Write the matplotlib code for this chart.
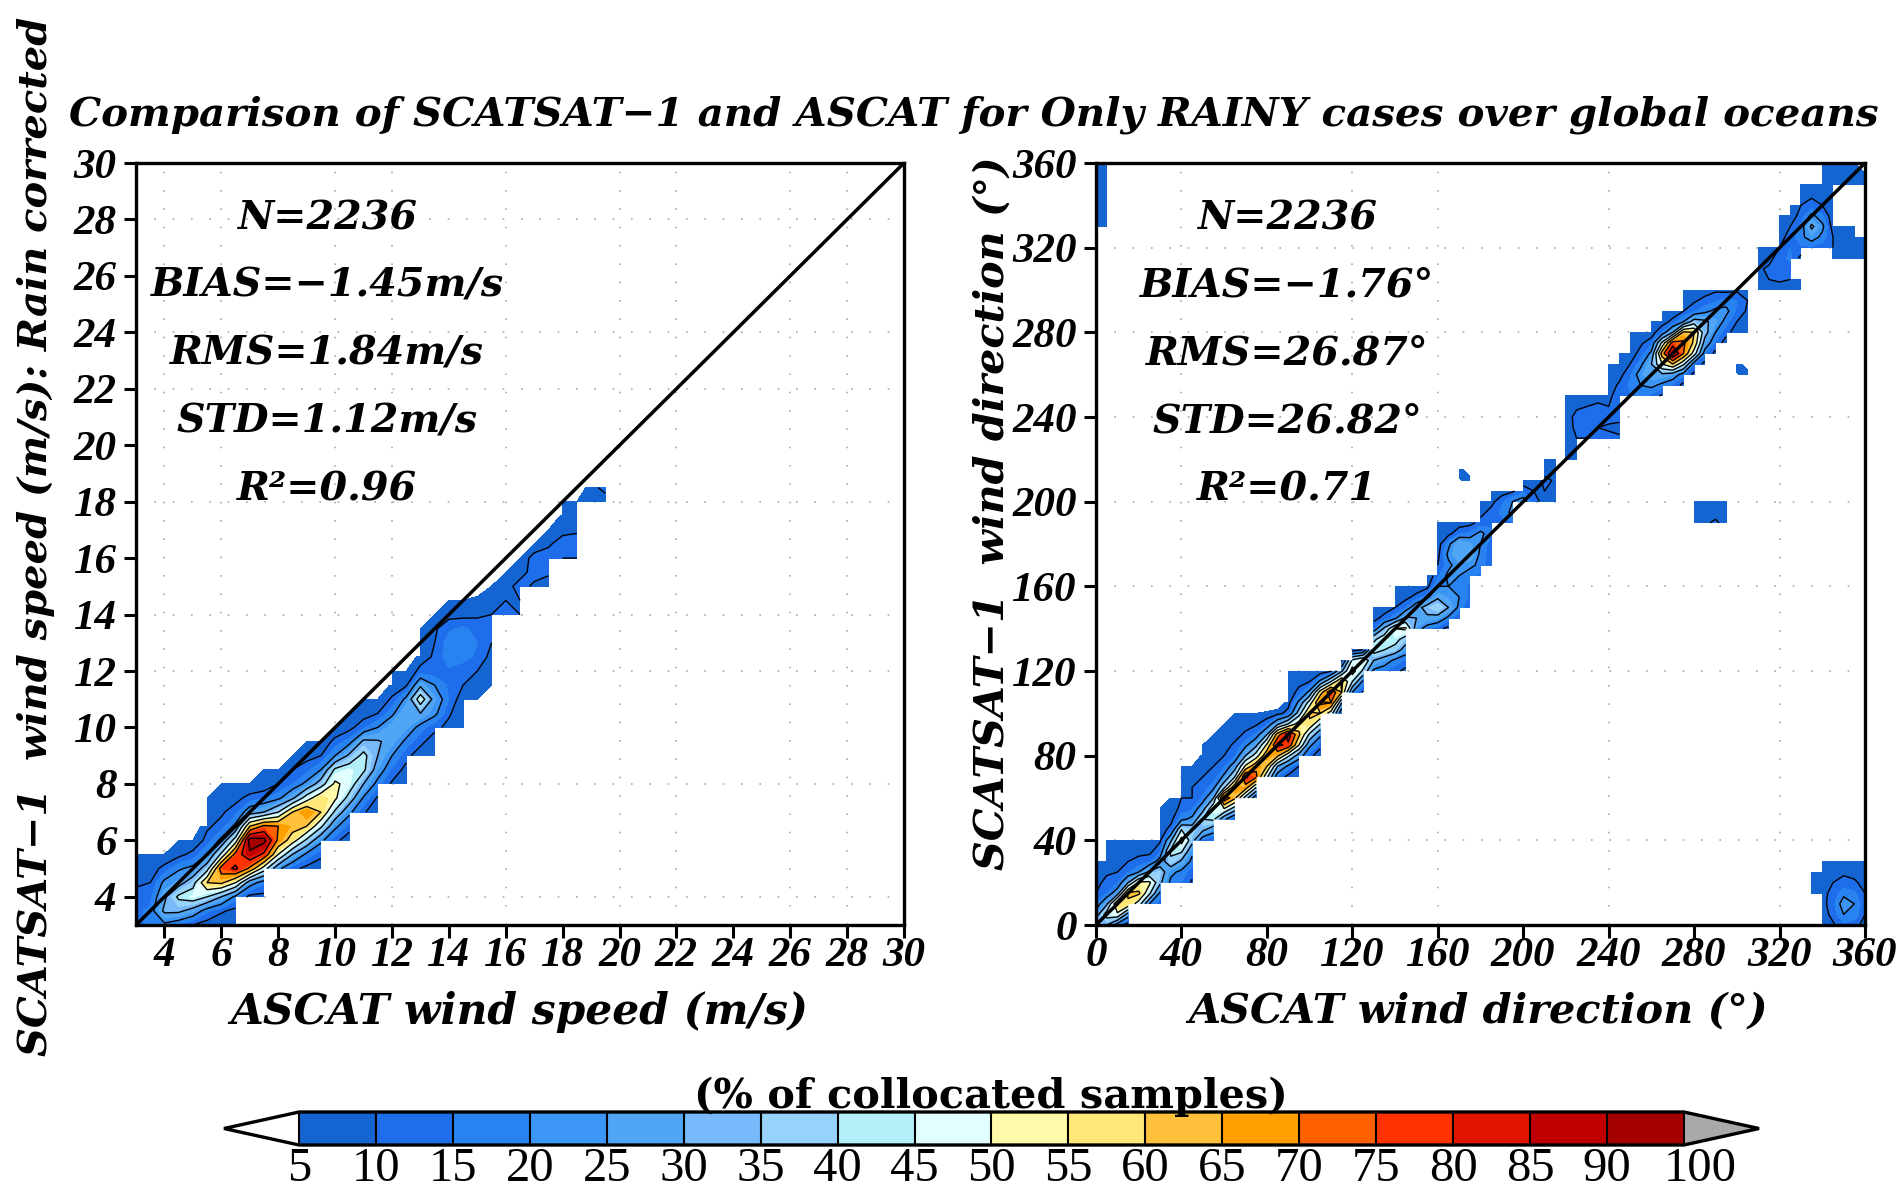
import numpy as np
import matplotlib
matplotlib.use('Agg')
import matplotlib.pyplot as plt
from matplotlib.colors import ListedColormap, BoundaryNorm
from matplotlib.colorbar import ColorbarBase

levels = [5,10,15,20,25,30,35,40,45,50,55,60,65,70,75,80,85,90,100]
line_levels = [10,20,30,40,50,60,70,80,90]
colors = ['#1464d2','#1e6eeb','#2882f0','#3c96f5','#50a5f5','#78b9fb','#96d2fa','#b4f0fa','#e1ffff',
          '#fffaaa','#ffe878','#ffc03c','#ffa000','#ff6000','#ff3200','#e11400','#c00000','#a50000']

# wind speed panel: column x (m/s), first y of the column (m/s), values at 0.5 m/s steps
spd_x = [3,3.5,4,4.5,5,5.5,6,6.5,7,7.5,8,8.5,9,9.5,10,10.5,11,11.5,12,12.5,13,13.5,14,14.5,15,15.5,16,16.5,17,17.5,18,18.5,19,19.5]
spd_y0 = [3,3,3,3,3,3,3,3,4,4,5,5,5,5,6,6,7,7,8,8,9,9,10,10,11,11,14,14,15,15,16,16,18,18]
spd_v = [
 [12,14,12,9,6,5],
 [18,16,13,10,7,5],
 [18,32,28,22,12,5],
 [14,32,42,26,19,8,5],
 [10,26,46,36,22,12,5],
 [7,16,40,60,36,20,12,9,6,5],
 [5,11,30,62,75,42,22,12,9,7,5],
 [5,8,18,50,82,74,45,22,13,8,5],
 [8,24,68,88,95,60,25,12,5],
 [8,16,45,78,93,72,30,14,6,5],
 [22,50,68,70,40,18,10,5],
 [12,30,55,64,60,28,15,10,5],
 [8,18,38,60,70,45,22,13,8,5],
 [5,12,22,42,60,58,35,20,10,5],
 [12,22,38,52,52,42,20,12,5],
 [6,13,22,36,46,46,32,17,8,5],
 [11,19,30,42,43,32,14,7,5],
 [5,9,17,25,30,31,20,10,5],
 [9,14,20,27,28,18,11,6,5],
 [5,8,12,18,26,30,22,9,5],
 [6,12,17,30,46,28,12,7,6,5,5],
 [5,6,12,22,26,20,12,11,10,9,5],
 [8,11,15,14,14,18,18,14,8,5],
 [5,5,6,10,12,17,20,16,8,5],
 [5,6,10,14,15,13,9,7],
 [5,5,6,8,10,11,10,8,5],
 [12,10,8,5],
 [10,10,12,8,5],
 [9,12,13,5],
 [7,11,13,9,5],
 [10,13,8,6,5],
 [10,13,9,7,5],
 [7,8],
 [7,12],
]

# wind direction panel: column x (deg), first y of the column (deg), values at 5 deg steps
dir_x = [0,0,5,5,10,15,20,25,30,35,40,45,50,55,60,65,70,75,80,85,90,95,100,105,110,115,120,125,130,135,140,145,150,155,160,165,170,175,
         180,185,190,195,200,205,210,215,220,225,230,235,240,245,250,255,260,265,270,275,280,285,290,295,300,305,
         280,285,290,295,300,305,170,175,
         310,315,320,325,330,330,335,340,345,350,350,355,355,360,360,335,340,345,350,355,360]
dir_y0 = [0,330,0,330,0,0,10,10,10,20,20,20,40,40,50,50,60,60,70,70,70,70,80,80,100,100,110,110,120,120,120,120,140,140,140,140,145,150,
          165,170,190,190,200,200,200,200,220,220,230,230,230,230,250,250,250,250,255,255,260,265,270,275,280,280,
          190,190,190,190,260,260,210,210,
          300,300,300,300,300,315,320,320,315,315,350,315,350,315,350,15,0,0,0,0,0]
dir_v = [
 [40,25,15,10,8,6,5],
 [5,6,7,7,6,7,8],
 [30,45,28,15,12,9,7,6,5],
 [5,6,7,7,6,7,8],
 [15,48,60,25,14,10,8,8,5],
 [6,25,58,62,30,14,10,9,6],
 [45,62,52,20,12,8,5],
 [20,42,52,32,14,8,5],
 [12,18,32,36,24,14,9,7,6,5,5],
 [18,22,38,42,28,12,8,6,5],
 [15,18,28,42,54,40,18,12,10,8,6,5],
 [9,12,18,22,34,36,22,14,10,10,7,5],
 [14,32,40,26,16,12,10,9,6,5],
 [10,24,42,48,30,18,12,10,8,6,5],
 [22,50,78,38,22,14,10,8,6,5],
 [10,35,62,68,40,25,14,11,8,6,5],
 [35,65,82,52,30,18,11,8,5],
 [12,40,72,68,45,28,16,9,5],
 [42,60,68,52,30,14,6],
 [14,30,62,82,65,28,8],
 [8,18,42,78,85,40,12,8,6,7,5],
 [5,10,25,50,62,55,35,22,12,8,5],
 [12,22,38,58,62,45,22,10,5],
 [6,12,22,40,60,72,55,22,6],
 [45,70,78,40,9],
 [12,30,60,62,28,8],
 [20,40,55,42,6],
 [9,18,38,50,10],
 [18,30,45,38,14,8,5],
 [15,25,40,46,32,12,7],
 [12,18,36,44,50,18,10,6,5],
 [8,14,25,35,52,32,15,8,5],
 [24,30,26,12,6],
 [16,28,34,18,8,5],
 [12,26,40,28,20,14,10,8,7,6,5],
 [8,18,30,24,20,22,18,22,18,8,5],
 [10,18,20,18,20,24,30,30,14,7],
 [10,14,14,16,22,30,26,16,8],
 [14,18,18,20,22,12,8,5],
 [12,12,12,16,14,12,8,5],
 [14,16,14,7],
 [14,22,20,9],
 [24,14,6],
 [12,10,6],
 [8,10,12,7,5],
 [6,7,9,10,6],
 [6,8,9,8,7,6,5],
 [7,8,10,11,12,9,7],
 [10,11,11,10,6],
 [11,10,12,12,6],
 [12,9,12,10,8,7,6,5],
 [11,8,12,14,14,11,8,6,5],
 [14,16,14,10,7,6,5],
 [18,20,24,18,12,9,6],
 [13,22,28,30,22,13,7,5],
 [9,18,28,50,65,42,15,7,5],
 [14,25,60,92,75,30,12,6],
 [8,16,42,70,72,62,20,10,7,5],
 [8,15,45,58,60,35,14,9,6],
 [8,16,26,34,32,18,12,7],
 [8,14,20,26,22,14,9],
 [7,12,17,22,17,8],
 [7,10,14,15,9],
 [5,7,9,10,8],
 [7,6,5],
 [9,7,5],
 [11,8,5],
 [8,6,5],
 [4,8],
 [8,1],
 [4,8],
 [8,1],
 [6,8,9,8,5],
 [7,10,11,8,6],
 [7,11,14,13,10,8,7,5],
 [7,10,13,16,15,12,10,7,5],
 [6,6],
 [8,14,18,16,12,10,8,6],
 [14,24,32,22,12,9,6],
 [12,18,22,16,10,8,7,6,5],
 [7,10,10,7,6,6,7,10,8,6],
 [8,10,8,5],
 [9,8,6],
 [7,8,6,5],
 [6,7,5],
 [5,5,5],
 [5,5,5],
 [5,6,5],
 [6,7,8,8,8,7,5],
 [9,12,13,12,10,8,5],
 [14,20,24,18,12,9,6],
 [12,18,20,16,11,8,5],
 [8,10,11,10,8,7,5],
]

spd_ticks = [4,6,8,10,12,14,16,18,20,22,24,26,28,30]
dir_ticks = [0,40,80,120,160,200,240,280,320,360]
spd_grid_x = [4,6,10,12,16,20,22,26,28]
spd_grid_y = [4,8,12,14,18,22,24,28]
dir_grid_x = [40,120,160,240,320]
dir_grid_y = [40,120,160,200,240,280,320]

spd_stats = ['N=2236','BIAS=−1.45m/s','RMS=1.84m/s','STD=1.12m/s','R²=0.96']
dir_stats = ['N=2236','BIAS=−1.76°','RMS=26.87°','STD=26.82°','R²=0.71']

W, H = 1900, 1193
fig = plt.figure(figsize=(W/100, H/100), dpi=100, facecolor='white')
FONT = dict(family='DejaVu Serif', style='italic', weight='bold')
TICKFONT = dict(family='Liberation Serif', style='italic', weight='bold', fontsize=31)

def ax_at(l, t, r, b):
    return fig.add_axes([l/W, 1-b/H, (r-l)/W, (b-t)/H])

def grid_of(xs, y0s, vals, step, xmin, xmax, ymin, ymax, soft_top):
    gx = np.arange(xmin, xmax+step/2, step)
    gy = np.arange(ymin, ymax+step/2, step)
    Z = np.full((len(gy), len(gx)), np.nan)
    for x, y0, v in zip(xs, y0s, vals):
        i = int(round((x-xmin)/step))
        j = int(round((y0-ymin)/step))
        Z[j:j+len(v), i] = v
    # columns whose upper edge fades out instead of ending square
    for x, y0, v in zip(xs, y0s, vals):
        if soft_top[0] <= x <= soft_top[1]:
            i = int(round((x-xmin)/step))
            j = int(round((y0-ymin)/step)) + len(v)
            if j < len(gy) and np.isnan(Z[j, i]):
                Z[j, i] = 0
    return gx, gy, Z

cmap = ListedColormap(colors)
cmap.set_under('white'); cmap.set_over('#a9a9a9')
norm = BoundaryNorm(levels, cmap.N)

def panel(ax, gx, gy, Z, lim, ticks, gridx, gridy, stats, sx):
    ax.contourf(gx, gy, Z, levels=levels, cmap=cmap, norm=norm, extend='neither', zorder=2, corner_mask=False)
    ax.contour(gx, gy, Z, levels=line_levels, colors='black', linewidths=1.0, zorder=3, corner_mask=False)
    ax.plot(lim, lim, color='black', lw=2.5, zorder=4)
    ax.set_xlim(lim); ax.set_ylim(lim)
    ax.set_xticks(ticks); ax.set_yticks(ticks)
    ax.set_xticklabels(ticks, **TICKFONT)
    ax.set_yticklabels(ticks, **TICKFONT)
    ax.tick_params(length=9, width=2.2)
    ax.tick_params(axis='x', pad=0)
    ax.tick_params(axis='y', pad=5)
    for s in ax.spines.values():
        s.set_linewidth(2.4)
    for g in gridx:
        ax.axvline(g, color='#aaaaaa', lw=1.2, ls=(0,(1,10)), zorder=1)
    for g in gridy:
        ax.axhline(g, color='#aaaaaa', lw=1.2, ls=(0,(1,10)), zorder=1)
    for s, yp in zip(stats, [218,286,354,422,490]):
        fig.text(sx/W, 1-yp/H, s, ha='center', va='center', fontsize=28.5, **FONT)

ax1 = ax_at(136, 163, 904, 925)
gx, gy, Z = grid_of(spd_x, spd_y0, spd_v, 0.5, 3, 30, 3, 30, (3, 18.5))
panel(ax1, gx, gy, Z, (3,30), spd_ticks, spd_grid_x, spd_grid_y, spd_stats, 327)

ax2 = ax_at(1096, 163, 1865, 925)
gx, gy, Z = grid_of(dir_x, dir_y0, dir_v, 5, 0, 360, 0, 360, (40, 85))
panel(ax2, gx, gy, Z, (0,360), dir_ticks, dir_grid_x, dir_grid_y, dir_stats, 1287)

fig.text(69/W, 1-115/H, 'Comparison of SCATSAT−1 and ASCAT for Only RAINY cases over global oceans',
         ha='left', va='center', fontsize=29.1, **FONT)
fig.text(36/W, 1-1056/H, 'SCATSAT−1  wind speed (m/s): Rain corrected', rotation=90,
         ha='center', va='bottom', fontsize=28.8, **FONT)
fig.text(993/W, 1-870/H, 'SCATSAT−1  wind direction (°)', rotation=90,
         ha='center', va='bottom', fontsize=29.7, **FONT)
fig.text(519/W, 1-1012/H, 'ASCAT wind speed (m/s)', ha='center', va='center', fontsize=30.5, **FONT)
fig.text(1478/W, 1-1012/H, 'ASCAT wind direction (°)', ha='center', va='center', fontsize=29.8, **FONT)

cax = ax_at(224, 1112, 1759, 1145)
cb = ColorbarBase(cax, cmap=cmap, norm=norm, boundaries=[0]+levels+[110], extend='both',
                  spacing='uniform', orientation='horizontal', extendfrac=0.0542,
                  drawedges=True)
cb.solids.set_edgecolor('face')
cb.dividers.set_color('black'); cb.dividers.set_linewidth(1.5)
cb.outline.set_linewidth(2.4)
cb.set_ticks(levels, labels=[str(v) for v in levels[:-1]] + [''])
cax.tick_params(length=0, pad=1.5, labelsize=35)
for lab in cax.get_xticklabels():
    lab.set_family('Liberation Serif')
cax.annotate(str(levels[-1]), xy=(levels[-1], 0), xycoords=('data', 'axes fraction'),
             xytext=(12, -1.5), textcoords='offset points', ha='center', va='top',
             fontsize=35, family='Liberation Serif', annotation_clip=False)
fig.text(991/W, 1-1097/H, '(% of collocated samples)', ha='center', va='center', fontsize=29.8,
         family='DejaVu Serif', weight='bold', zorder=0)

fig.savefig('out.png', dpi=100)
